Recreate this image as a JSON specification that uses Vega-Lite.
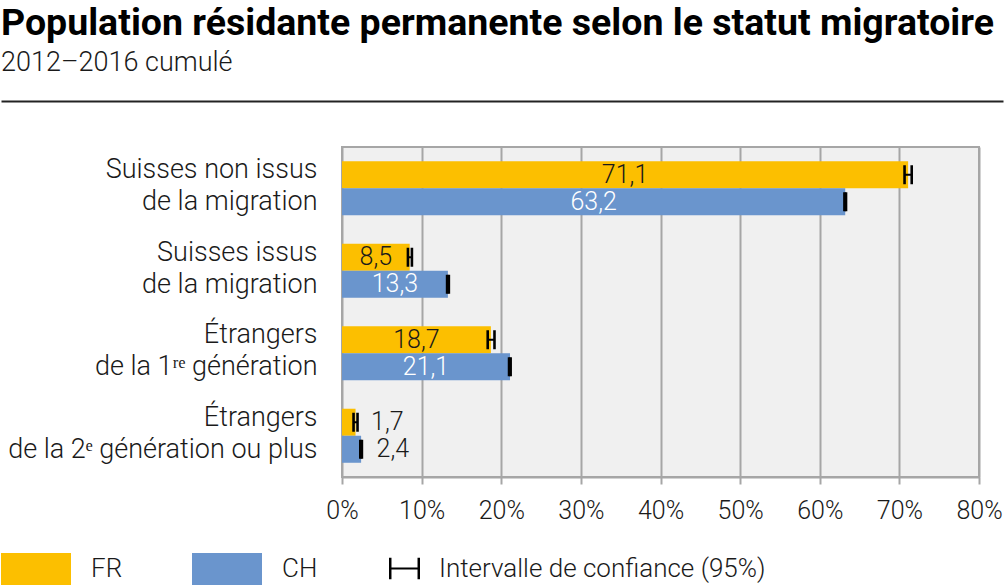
{
  "$schema": "https://vega.github.io/schema/vega-lite/v6.json",
  "padding": {"left": 0, "top": 4, "right": 0, "bottom": 0},
  "background": "white",
  "spacing": 41,
  "config": {
    "font": "Roboto",
    "locale": {"number": {"decimal": ",", "thousands": " ", "grouping": [3], "currency": ["", " CHF"]}},
    "title": {"color": "#000000"}
  },
  "resolve": {"scale": {"color": "independent", "strokeDash": "independent", "x": "independent"}, "legend": {"color": "independent", "strokeDash": "independent"}},
  "vconcat": [
    {
      "width": 661,
      "height": 2,
      "view": {"fill": null, "stroke": null},
      "title": {
        "text": "Population résidante permanente selon le statut migratoire",
        "subtitle": "2012–2016 cumulé",
        "anchor": "start",
        "frame": "bounds",
        "font": "Roboto",
        "fontSize": 37.5,
        "fontWeight": "bold",
        "color": "#000000",
        "subtitleFont": "Roboto",
        "subtitleFontSize": 27,
        "subtitleFontWeight": 300,
        "subtitleColor": "#1a1a1a",
        "subtitlePadding": 8,
        "offset": 18
      },
      "data": {"values": [{"t": ""}]},
      "mark": {"type": "text"},
      "encoding": {
        "text": {"field": "t", "type": "nominal"},
        "x": {
          "datum": 0,
          "type": "quantitative",
          "scale": {"domain": [0, 1], "range": [-341, 661]},
          "axis": {"title": null, "labels": false, "ticks": false, "grid": false, "domainColor": "#222222", "domainWidth": 2}
        }
      }
    },
    {
      "width": 637,
      "height": 330,
      "view": {"fill": "#f0f0f0", "stroke": "#a6a6a6", "strokeWidth": 2},
      "data": {
        "values": [
          {"group": "Suisses non issus|de la migration", "series": "FR", "value": 71.1, "lo": 70.65, "hi": 71.55},
          {"group": "Suisses non issus|de la migration", "series": "CH", "value": 63.2, "lo": 63.1, "hi": 63.3},
          {"group": "Suisses issus|de la migration", "series": "FR", "value": 8.5, "lo": 8.28, "hi": 8.78},
          {"group": "Suisses issus|de la migration", "series": "CH", "value": 13.3, "lo": 13.2, "hi": 13.42},
          {"group": "Étrangers|de la 1ʳᵉ génération", "series": "FR", "value": 18.7, "lo": 18.3, "hi": 19.15},
          {"group": "Étrangers|de la 1ʳᵉ génération", "series": "CH", "value": 21.1, "lo": 20.98, "hi": 21.18},
          {"group": "Étrangers|de la 2ᵉ génération ou plus", "series": "FR", "value": 1.7, "lo": 1.45, "hi": 1.95},
          {"group": "Étrangers|de la 2ᵉ génération ou plus", "series": "CH", "value": 2.4, "lo": 2.3, "hi": 2.5}
        ]
      },
      "encoding": {
        "y": {
          "field": "group",
          "type": "nominal",
          "sort": null,
          "scale": {"paddingInner": 0.345, "paddingOuter": 0.1725},
          "axis": {
            "title": null,
            "ticks": false,
            "domain": false,
            "labelExpr": "split(datum.label, '|')",
            "labelFont": "Roboto",
            "labelFontSize": 27,
            "labelFontWeight": 300,
            "labelColor": "#1a1a1a",
            "labelPadding": 25,
            "labelLineHeight": 32,
            "labelOffset": -18,
            "labelAlign": "right",
            "labelBaseline": "middle",
            "labelLimit": 400,
            "minExtent": 341,
            "maxExtent": 341
          }
        },
        "yOffset": {"field": "series", "type": "nominal", "sort": ["FR", "CH"], "scale": {"paddingInner": 0, "paddingOuter": 0}}
      },
      "layer": [
        {
          "mark": {"type": "bar"},
          "encoding": {
            "x": {
              "field": "value",
              "type": "quantitative",
              "scale": {"domain": [0, 80], "nice": false},
              "axis": {
                "title": null,
                "values": [0, 10, 20, 30, 40, 50, 60, 70, 80],
                "labelExpr": "datum.value + '%'",
                "grid": true,
                "gridColor": "#a6a6a6",
                "gridWidth": 2,
                "domainColor": "#a6a6a6",
                "domainWidth": 2,
                "tickColor": "#a6a6a6",
                "tickWidth": 2,
                "tickSize": 7,
                "labelFont": "Roboto",
                "labelFontSize": 25,
                "labelFontWeight": 300,
                "labelColor": "#1a1a1a",
                "labelPadding": 14,
                "labelFlush": false
              }
            },
            "color": {
              "field": "series",
              "type": "nominal",
              "scale": {"domain": ["FR", "CH"], "range": ["#fcbf00", "#6a95cd"]},
              "legend": {
                "orient": "none",
                "legendX": -341,
                "legendY": 387,
                "direction": "horizontal",
                "title": null,
                "symbolType": "M-1,-0.457H1V0.457H-1Z",
                "symbolSize": 4900,
                "symbolStrokeWidth": 0,
                "symbolOpacity": 1,
                "labelFont": "Roboto",
                "labelFontSize": 26,
                "labelFontWeight": 300,
                "labelColor": "#1a1a1a",
                "labelOffset": 20,
                "columnPadding": 69
              }
            }
          }
        },
        {
          "mark": {"type": "rule", "color": "#000000", "strokeWidth": 2},
          "encoding": {
            "x": {"field": "lo", "type": "quantitative"},
            "x2": {"field": "hi"},
            "strokeDash": {
              "datum": "Intervalle de confiance (95%)",
              "type": "nominal",
              "scale": {"range": [[1, 0]]},
              "legend": {
                "orient": "none",
                "legendX": 47,
                "legendY": 406,
                "title": null,
                "symbolType": "M-1,-0.7H-0.84V-0.07H0.84V-0.7H1V0.7H0.84V0.07H-0.84V0.7H-1Z",
                "symbolSize": 961,
                "symbolFillColor": "#000000",
                "symbolStrokeWidth": 0,
                "labelFont": "Roboto",
                "labelFontSize": 26,
                "labelFontWeight": 300,
                "labelColor": "#1a1a1a",
                "labelOffset": 19,
                "labelLimit": 500,
                "encode": {"symbols": {"update": {"fill": {"value": "#000000"}, "strokeWidth": {"value": 0}, "opacity": {"value": 1}}}}
              }
            }
          }
        },
        {
          "mark": {"type": "tick", "color": "#000000", "thickness": 2.6, "size": 19, "opacity": 1},
          "encoding": {"x": {"field": "lo", "type": "quantitative"}}
        },
        {
          "mark": {"type": "tick", "color": "#000000", "thickness": 2.6, "size": 19, "opacity": 1},
          "encoding": {"x": {"field": "hi", "type": "quantitative"}}
        },
        {
          "transform": [{"filter": "datum.value >= 5"}, {"calculate": "datum.value / 2", "as": "mid"}],
          "mark": {"type": "text", "font": "Roboto", "fontSize": 25, "fontWeight": 300, "align": "center", "baseline": "middle"},
          "encoding": {
            "x": {"field": "mid", "type": "quantitative"},
            "text": {"field": "value", "type": "quantitative", "format": ".1f"},
            "color": {"condition": {"test": "datum.series === 'CH'", "value": "#ffffff"}, "value": "#1a1a1a"}
          }
        },
        {
          "transform": [{"filter": "datum.value < 5"}],
          "mark": {"type": "text", "font": "Roboto", "fontSize": 25, "fontWeight": 300, "align": "left", "baseline": "middle", "dx": 15.5, "color": "#1a1a1a"},
          "encoding": {
            "x": {"field": "value", "type": "quantitative"},
            "text": {"field": "value", "type": "quantitative", "format": ".1f"}
          }
        }
      ]
    }
  ]
}
